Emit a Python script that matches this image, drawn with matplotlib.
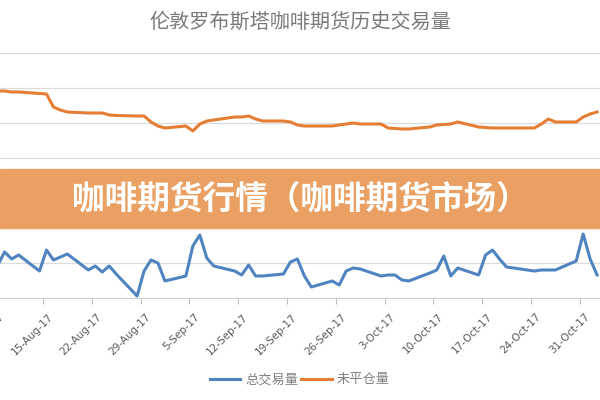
import datetime as dt

import matplotlib
matplotlib.use("Agg")
import matplotlib.pyplot as plt
import matplotlib.dates as mdates
import matplotlib.transforms as mtransforms
from matplotlib.patches import Rectangle
from matplotlib.ticker import FuncFormatter

plt.rcParams['font.family'] = ['Noto Sans CJK SC', 'DejaVu Sans']

title = "伦敦罗布斯塔咖啡期货历史交易量"
banner = "咖啡期货行情（咖啡期货市场）"
series_names = ["总交易量", "未平仓量"]

days = [
    "2017-08-08", "2017-08-09", "2017-08-10", "2017-08-11",
    "2017-08-14", "2017-08-15", "2017-08-16", "2017-08-17", "2017-08-18",
    "2017-08-21", "2017-08-22", "2017-08-23", "2017-08-24", "2017-08-25",
    "2017-08-28", "2017-08-29", "2017-08-30", "2017-08-31", "2017-09-01",
    "2017-09-04", "2017-09-05", "2017-09-06", "2017-09-07", "2017-09-08",
    "2017-09-11", "2017-09-12", "2017-09-13", "2017-09-14", "2017-09-15",
    "2017-09-18", "2017-09-19", "2017-09-20", "2017-09-21", "2017-09-22",
    "2017-09-25", "2017-09-26", "2017-09-27", "2017-09-28", "2017-09-29",
    "2017-10-02", "2017-10-03", "2017-10-04", "2017-10-05", "2017-10-06",
    "2017-10-09", "2017-10-10", "2017-10-11", "2017-10-12", "2017-10-13",
    "2017-10-16", "2017-10-17", "2017-10-18", "2017-10-19", "2017-10-20",
    "2017-10-23", "2017-10-24", "2017-10-25", "2017-10-26", "2017-10-27",
    "2017-10-30", "2017-10-31", "2017-11-01", "2017-11-02",
]

# 总交易量
volume = [
    9400, 13140, 11140, 12290,
    7710, 13710, 10860, 11710, 12570,
    8000, 9140, 7430, 9140, 6860,
    570, 7710, 10860, 10000, 4860,
    6290, 14860, 18000, 11430, 9140,
    7710, 6570, 9430, 6290, 6290,
    6860, 10290, 11140, 6290, 3140,
    4860, 3710, 7710, 8570, 8290,
    6290, 6570, 6570, 5140, 4860,
    7140, 8000, 12000, 6290, 8570,
    6570, 12290, 13710, 11140, 8860,
    8000, 7710, 8000, 8000, 8000,
    10570, 18290, 11140, 6570,
]

# 未平仓量
open_interest = [
    59140, 59140, 58860, 58860,
    58430, 58290, 54570, 53710, 53140,
    52860, 52860, 52860, 52290, 52140,
    52000, 52000, 50290, 49140, 48570,
    49140, 47710, 49710, 50570, 50860,
    51710, 51710, 52000, 51140, 50570,
    50570, 50290, 49430, 49140, 49140,
    49140, 49430, 49710, 50000, 49710,
    49710, 48570, 48430, 48290, 48290,
    48860, 49430, 49570, 49710, 50290,
    48860, 48710, 48570, 48570, 48570,
    48570, 48570, 49710, 51140, 50290,
    50290, 51710, 52570, 53140,
]

# daily points sit in the middle of their day slot, like Excel's date axis
x = [dt.datetime.strptime(d, "%Y-%m-%d") + dt.timedelta(hours=12) for d in days]

fig = plt.figure(figsize=(6, 4), dpi=100)
ax = fig.add_axes([-0.05, 0.255, 1.1, 0.6125])

ax.plot(x, volume, color='#5084c0', lw=2.2, label=series_names[0],
        solid_joinstyle='round')
ax.plot(x, open_interest, color='#e57e34', lw=2.2, label=series_names[1],
        solid_joinstyle='round')

t0 = dt.datetime(2017, 8, 15)
ax.set_xlim(t0 - dt.timedelta(days=10.473), t0 + dt.timedelta(days=84.22))
ax.set_ylim(0, 70000)

ax.yaxis.set_major_locator(plt.MultipleLocator(10000))
ax.grid(axis='y', color='#dcdcdc', lw=0.9)
ax.set_axisbelow(True)
ax.tick_params(axis='y', left=False, labelleft=False)

ax.xaxis.set_major_locator(mdates.WeekdayLocator(byweekday=mdates.TU))
ax.xaxis.set_major_formatter(FuncFormatter(
    lambda v, pos: "{}-{}".format(mdates.num2date(v).day,
                                  mdates.num2date(v).strftime("%b-%y"))))
ax.tick_params(axis='x', direction='out', length=4, color='#bfbfbf',
               labelsize=7.5, labelcolor='#595959', pad=3)
shift = mtransforms.ScaledTranslation(5 / 100, -4 / 100, fig.dpi_scale_trans)
for lab in ax.get_xticklabels():
    lab.set_rotation(45)
    lab.set_ha('right')
    lab.set_rotation_mode('anchor')
    lab.set_family(['DejaVu Sans'])
    lab.set_transform(lab.get_transform() + shift)

for s in ['left', 'right', 'top']:
    ax.spines[s].set_visible(False)
ax.spines['bottom'].set_color('#d0d0d0')

fig.text(0.5, 0.945, title, ha='center', va='center', fontsize=14.5,
         color='#7a7a7a')

fig.legend(loc='center', bbox_to_anchor=(0.5, 0.05), ncol=2, frameon=False,
           fontsize=9.5, handlelength=2.3, handletextpad=0.4, columnspacing=0.2,
           labelcolor='#808080')

# orange banner laid over the middle of the chart
fig.patches.append(Rectangle((0, (400 - 228) / 400), 1, 59 / 400,
                             transform=fig.transFigure, color='#e9a062',
                             zorder=5))
fig.text(0.5, (400 - 199) / 400, banner, ha='center', va='center',
         fontsize=23.5, color='white', fontweight='bold', zorder=6)

plt.savefig('out.png', dpi=100)
